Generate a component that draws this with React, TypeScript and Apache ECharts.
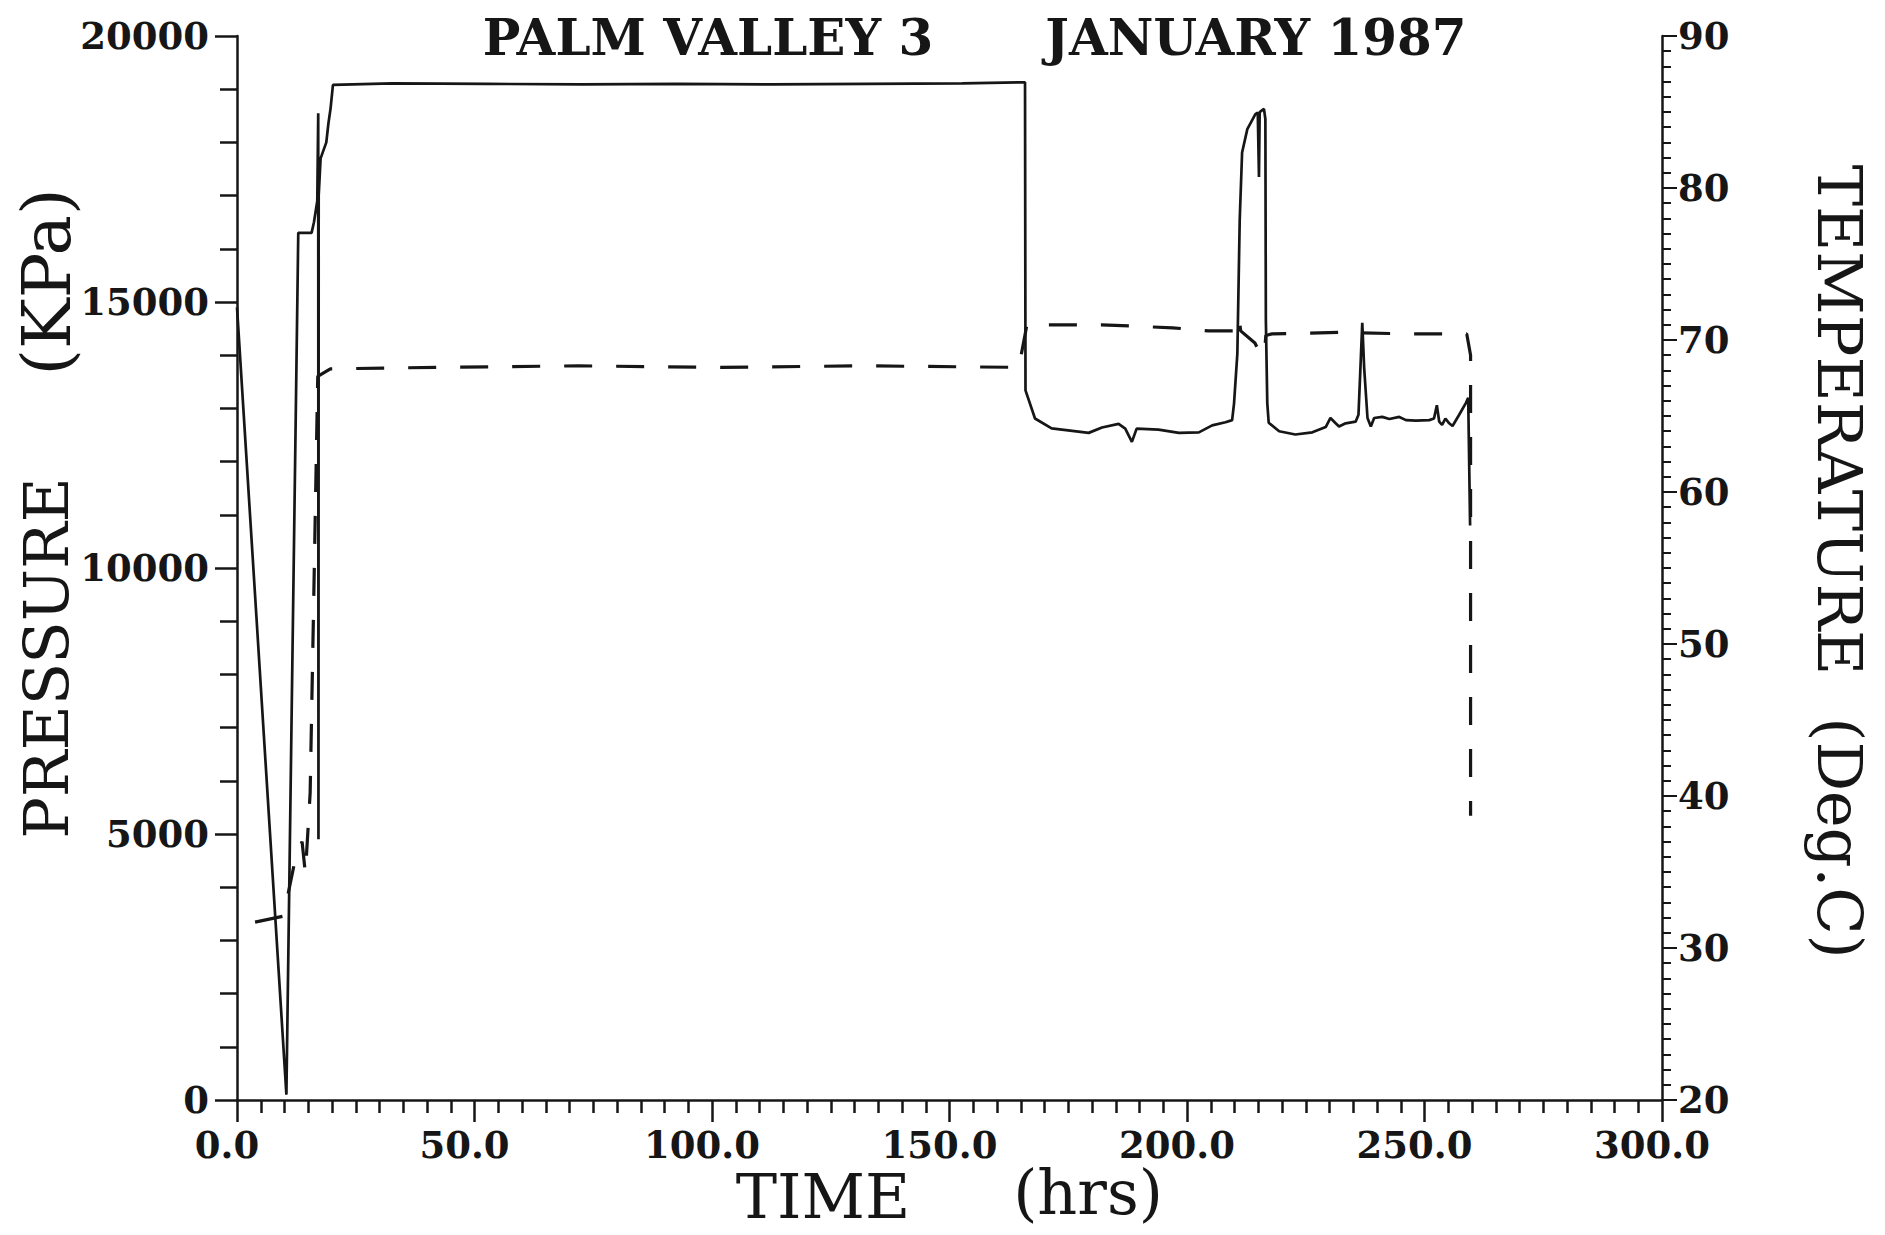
import React, { useEffect, useRef } from "react";
import * as echarts from "echarts";

const TITLE_LEFT = "PALM VALLEY 3";
const TITLE_RIGHT = "JANUARY 1987";

// Pressure record (solid line): time in hours, pressure in kPa
const pressureTime = [
  0, 10.4, 12.9, 15.7, 16.2, 16.9, 17.1, 17.15, 17.2, 17.6, 18.8, 19.25, 19.7, 20.2,
  32.7, 52.7, 72.7, 92.7, 112.7, 132.7, 152.7, 165.9,
  166.0, 168.0, 171.5, 179.3, 182.1, 185.6, 187.0, 188.4, 189.4, 194.0, 198.3, 202.5,
  205.3, 208.1, 209.5, 209.9, 210.6, 211.1, 211.6, 212.7, 214.4, 214.9, 215.15, 215.3,
  216.2, 216.5, 216.6, 216.9, 217.2, 219.4, 222.8, 226.4, 229.2, 230.2, 231.3, 232.0,
  233.4, 235.5, 236.1, 236.6, 236.9, 237.3, 238.0, 238.7, 239.4, 241.1, 242.6, 244.7,
  246.1, 248.2, 251.0, 252.0, 252.6, 253.1, 253.7, 254.4, 255.2, 255.9, 257.3, 258.7,
  259.2, 259.6,
];
const pressureKPa = [
  14900, 100, 16300, 16300, 16500, 16900, 18550, 4900, 17000, 17700, 18000, 18360, 18640, 19080,
  19110, 19100, 19090, 19100, 19090, 19100, 19110, 19130,
  13340, 12810, 12625, 12540, 12640, 12710, 12620, 12370, 12620, 12600, 12540, 12550,
  12680, 12740, 12780, 13090, 14030, 16550, 17810, 18250, 18530, 18560, 17350, 18570,
  18630, 18440, 14670, 13100, 12730, 12570, 12510, 12550, 12650, 12820, 12720, 12660,
  12720, 12750, 12880, 13950, 14610, 13760, 12820, 12660, 12820, 12840, 12800, 12840,
  12780, 12770, 12780, 12810, 13060, 12750, 12690, 12810, 12720, 12670, 12880, 13100,
  13200, 10800,
];

// Temperature record (dashed line): time in hours, temperature in deg C
const tempTime = [
  3.8, 9.8, 12.3, 13.7, 14.4, 15.4, 16.1, 17.0, 19.65, 41.9, 71.9, 101.9, 131.9, 164.6, 164.9,
  166.3, 182, 197, 204.5, 210.6, 211.0, 211.3, 214.3, 215.6, 216.3, 216.6, 217.9, 232,
  247, 258.9, 259.7, 259.7,
];
const tempDegC = [
  31.7, 32.1, 35.9, 37.0, 34.9, 40.2, 52.0, 67.6, 68.1, 68.2, 68.3, 68.2, 68.3, 68.2, 68.7,
  71.0, 71.0, 70.8, 70.6, 70.6, 71.4, 70.6, 69.8, 69.0, 69.1, 70.3, 70.4, 70.5,
  70.4, 70.4, 69.0, 38.7,
];

const INK = "#161616";
const NUM_FONT = "DejaVu Serif";

export default function App() {
  const ref = useRef<HTMLDivElement>(null);

  useEffect(() => {
    if (!ref.current) return;
    const chart = echarts.init(ref.current, undefined, { renderer: "svg" });

    const pressureData = pressureTime.map((t, i) => [t, pressureKPa[i]]);
    const tempData = tempTime.map((t, i) => [t, tempDegC[i]]);

    const labelStyle = {
      color: INK,
      fontFamily: NUM_FONT,
      fontWeight: "bold" as const,
      fontSize: 37,
    };
    const nameStyle = {
      fill: INK,
      fontFamily: "DejaVu Serif",
      fontSize: 62,
      align: "center" as const,
      verticalAlign: "middle" as const,
    };
    const titleStyle = {
      fill: INK,
      fontFamily: "DejaVu Serif",
      fontWeight: "bold" as const,
      fontSize: 50,
      align: "center" as const,
      verticalAlign: "middle" as const,
    };

    chart.setOption({
      animation: false,
      backgroundColor: "#ffffff",
      grid: { left: 237, right: 223, top: 36, bottom: 135, containLabel: false },
      xAxis: {
        type: "value",
        min: 0,
        max: 300,
        interval: 50,
        axisLine: { show: true, lineStyle: { color: INK, width: 2.5 } },
        axisTick: { show: true, length: 22, lineStyle: { color: INK, width: 2.5 } },
        minorTick: { show: true, splitNumber: 10, length: 13, lineStyle: { color: INK, width: 2.5 } },
        splitLine: { show: false },
        minorSplitLine: { show: false },
        axisLabel: {
          ...labelStyle,
          margin: 26,
          padding: [0, 20, 0, 0],
          formatter: (v: number) => v.toFixed(1),
        },
      },
      yAxis: [
        {
          type: "value",
          position: "left",
          min: 0,
          max: 20000,
          interval: 5000,
          axisLine: { show: true, lineStyle: { color: INK, width: 2.5 } },
          axisTick: { show: true, length: 22, lineStyle: { color: INK, width: 2.5 } },
          minorTick: { show: true, splitNumber: 5, length: 17, lineStyle: { color: INK, width: 2.5 } },
          splitLine: { show: false },
          minorSplitLine: { show: false },
          axisLabel: { ...labelStyle, margin: 28, formatter: (v: number) => String(v) },
        },
        {
          type: "value",
          position: "right",
          min: 20,
          max: 90,
          interval: 10,
          axisLine: { show: true, lineStyle: { color: INK, width: 2.5 } },
          axisTick: { show: true, length: 15, lineStyle: { color: INK, width: 2 } },
          minorTick: { show: true, splitNumber: 10, length: 9, lineStyle: { color: INK, width: 2 } },
          splitLine: { show: false },
          minorSplitLine: { show: false },
          axisLabel: { ...labelStyle, margin: 16, formatter: (v: number) => String(v) },
        },
      ],
      series: [
        {
          name: "Pressure",
          type: "line",
          yAxisIndex: 0,
          data: pressureData,
          showSymbol: false,
          symbol: "none",
          lineStyle: { color: INK, width: 2.7 },
          z: 3,
        },
        {
          name: "Temperature",
          type: "line",
          yAxisIndex: 1,
          data: tempData,
          showSymbol: false,
          symbol: "none",
          lineStyle: { color: INK, width: 3.2, type: [28, 24] },
          z: 2,
        },
      ],
      graphic: [
        { type: "text", x: 708, y: 37, style: { ...titleStyle, text: TITLE_LEFT } },
        { type: "text", x: 1256, y: 37, style: { ...titleStyle, text: TITLE_RIGHT } },
        { type: "text", x: 46, y: 658, rotation: Math.PI / 2, style: { ...nameStyle, text: "PRESSURE" } },
        { type: "text", x: 46, y: 282, rotation: Math.PI / 2, style: { ...nameStyle, fontSize: 68, text: "(KPa)" } },
        { type: "text", x: 1839, y: 420, rotation: -Math.PI / 2, style: { ...nameStyle, text: "TEMPERATURE" } },
        { type: "text", x: 1839, y: 838, rotation: -Math.PI / 2, style: { ...nameStyle, text: "(Deg.C)" } },
        { type: "text", x: 823, y: 1196, style: { ...nameStyle, text: "TIME" } },
        { type: "text", x: 1088, y: 1192, style: { ...nameStyle, text: "(hrs)" } },
      ],
    });

    return () => chart.dispose();
  }, []);

  return (
    <div
      ref={ref}
      style={{ position: "fixed", left: 0, top: 0, width: 1885, height: 1235, background: "#fff" }}
    />
  );
}
